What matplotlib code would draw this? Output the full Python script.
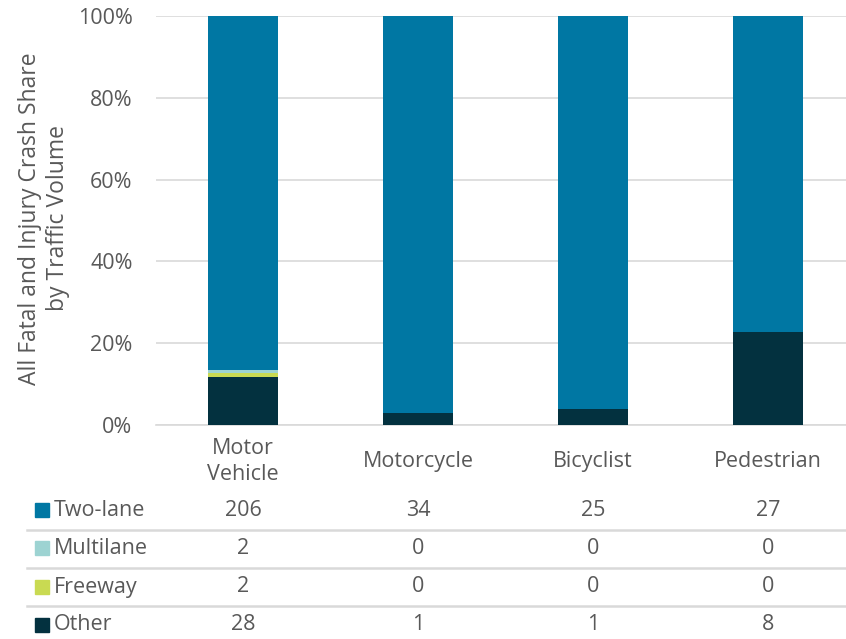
import matplotlib.pyplot as plt
import numpy as np
from matplotlib.transforms import blended_transform_factory
from matplotlib.lines import Line2D

plt.rcParams['font.family'] = ['Open Sans', 'DejaVu Sans']

categories = ['Motor\nVehicle', 'Motorcycle', 'Bicyclist', 'Pedestrian']
series = ['Two-lane', 'Multilane', 'Freeway', 'Other']
two_lane = [206, 34, 25, 27]
multilane = [2, 0, 0, 0]
freeway = [2, 0, 0, 0]
other = [28, 1, 1, 8]
colors = {'Two-lane': '#0077A3', 'Multilane': '#9DD3D2', 'Freeway': '#C9DA52', 'Other': '#03313F'}

values = {'Two-lane': two_lane, 'Multilane': multilane, 'Freeway': freeway, 'Other': other}
totals = np.array(two_lane) + np.array(multilane) + np.array(freeway) + np.array(other)

txt = '#595959'
fs = 15.5
W, H = 846, 639
fig = plt.figure(figsize=(8.46, 6.39), dpi=100)
ax = fig.add_axes([155.5 / W, 1 - 425 / H, 1 - 155.5 / W, 409 / H])

x = np.arange(len(categories))
bottom = np.zeros(len(categories))
# stack from the bottom: Other, Freeway, Multilane, Two-lane
for s in ['Other', 'Freeway', 'Multilane', 'Two-lane']:
    share = np.array(values[s]) / totals
    ax.bar(x, share, 0.4, bottom=bottom, color=colors[s], zorder=3)
    bottom += share

ax.set_xlim(-0.5, 3.5 - 9.5 / 175)
ax.set_ylim(0, 1)
ax.set_yticks(np.arange(0, 1.01, 0.2))
ax.set_yticklabels([f'{int(round(v * 100))}%' for v in np.arange(0, 1.01, 0.2)])
ax.yaxis.grid(True, color='#D9D9D9', linewidth=1.2, zorder=0)
ax.set_axisbelow(True)
for sp in ['top', 'right', 'left']:
    ax.spines[sp].set_visible(False)
ax.spines['bottom'].set_color('#D9D9D9')
ax.spines['bottom'].set_linewidth(1.2)
ax.tick_params(axis='both', length=0, labelsize=fs, colors=txt)
ax.tick_params(axis='y', pad=16.5)
ax.tick_params(axis='x', pad=26)
ax.set_xticks(x)
ax.set_xticklabels(categories, linespacing=1.3, va='center')
ax.set_ylabel('All Fatal and Injury Crash Share\nby Traffic Volume', fontsize=16.5, color=txt,
              linespacing=1.2)
ax.yaxis.set_label_coords(-(155.5 - 70) / (W - 155.5), 0.505)

# data table below the chart
tr = blended_transform_factory(ax.transData, fig.transFigure)
row_y = [510, 548, 587, 625]
for i, s in enumerate(series):
    yf = 1 - row_y[i] / H
    fig.patches.append(plt.Rectangle((35 / W, yf - 7 / H), 14 / W, 14 / H,
                                     transform=fig.transFigure, color=colors[s]))
    fig.text(54 / W, yf, s, fontsize=fs, color=txt, va='center', ha='left')
    for j, v in enumerate(values[s]):
        ax.text(x[j], yf, str(v), transform=tr, fontsize=fs, color=txt,
                va='center', ha='center', clip_on=False)
for ly in [529.5, 568, 606]:
    fig.add_artist(Line2D([27 / W, 1], [1 - ly / H] * 2, color='#D9D9D9',
                          linewidth=1.8, transform=fig.transFigure))

fig.savefig('out.png', dpi=100)
